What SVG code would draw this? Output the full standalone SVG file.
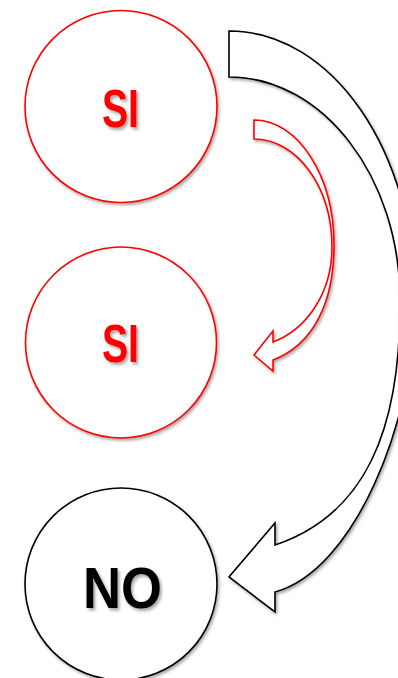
<svg xmlns="http://www.w3.org/2000/svg" width="398" height="678" viewBox="0 0 398 678">
  <defs>
    <filter id="sh" x="-20%" y="-20%" width="140%" height="140%">
      <feDropShadow dx="1.5" dy="2" stdDeviation="1.5" flood-color="#000" flood-opacity="0.35"/>
    </filter>
    <filter id="tsh" x="-20%" y="-20%" width="140%" height="140%">
      <feDropShadow dx="2" dy="2.5" stdDeviation="1.5" flood-color="#000" flood-opacity="0.35"/>
    </filter>
  </defs>
  <style>
    .red { fill: #ffffff; stroke: #ff0000; stroke-width: 1.6; }
    .blk { fill: #ffffff; stroke: #000000; stroke-width: 1.6; }
    .lbl { font-family: "Liberation Sans", Arial, sans-serif; font-weight: bold; text-anchor: middle; }
  </style>
  <rect width="398" height="678" fill="#ffffff"/>
  <g id="connectors">
    <path id="arrow-no" class="blk" filter="url(#sh)" stroke-linejoin="miter" d="M229,31 C332,31 415,151.5 415,300 C415,420 355,570 275,592 L275,612 L229,577 L275,523 L275,545 C365,515 401,430 400,300 C400,177 323,77 229,77 Z"/>
    <path id="arrow-si" class="red" filter="url(#sh)" stroke-linejoin="miter" d="M254,120 C298,120 334,176 334,245 C334,305 312,345 273,360 L273,371 L254,355 L273,331 L273,342 C305,330 332,295 332,247 C332,187 297,139 254,139 Z"/>
  </g>
  <g id="node-si1">
    <circle class="red" filter="url(#sh)" cx="121" cy="106.5" r="96"/>
    <text class="lbl" filter="url(#tsh)" x="120.5" y="127" font-size="53" fill="#ff0000" textLength="37" lengthAdjust="spacingAndGlyphs">SI</text>
  </g>
  <g id="node-si2">
    <circle class="red" filter="url(#sh)" cx="121" cy="342.5" r="95.5"/>
    <text class="lbl" filter="url(#tsh)" x="120.5" y="362" font-size="53" fill="#ff0000" textLength="37" lengthAdjust="spacingAndGlyphs">SI</text>
  </g>
  <g id="node-no">
    <circle class="blk" filter="url(#sh)" cx="121" cy="584" r="96"/>
    <text class="lbl" filter="url(#tsh)" x="122.5" y="608" font-size="57" fill="#000000" textLength="79" lengthAdjust="spacingAndGlyphs">NO</text>
  </g>
</svg>
